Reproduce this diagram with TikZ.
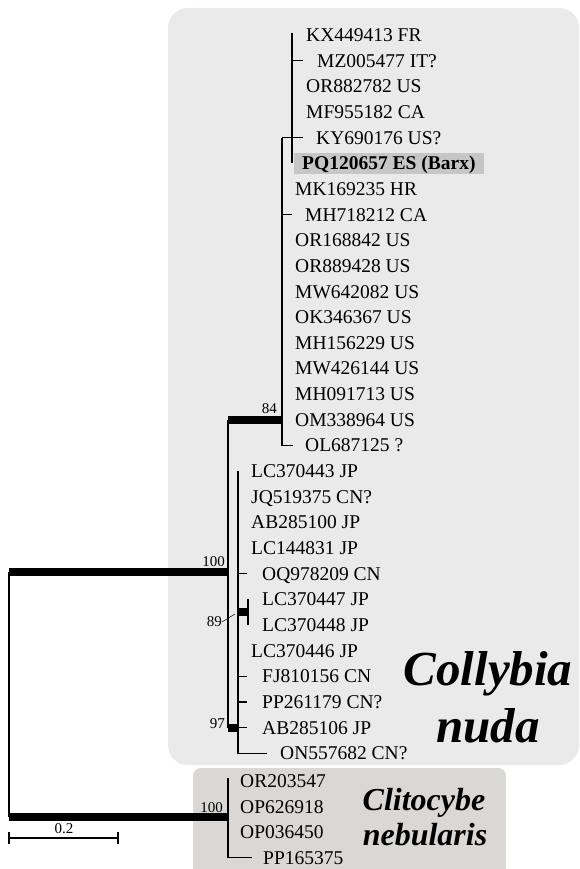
\documentclass[tikz,border=0pt]{standalone}
\usepackage{fontspec}
\setmainfont{Liberation Serif}
\usepackage{tikz}
\usetikzlibrary{calc}
\definecolor{nudagray}{RGB}{234,234,234}
\definecolor{nebgray}{RGB}{217,216,215}
\definecolor{hlgray}{RGB}{198,198,198}
\tikzset{
  taxon/.style={anchor=west, inner sep=0pt, text height=13pt, text depth=0pt, font=\fontsize{19.5}{20}\selectfont},
  supp/.style={inner sep=0pt, font=\fontsize{15}{15}\selectfont},
  branch/.style={line width=1.4pt},
  strong/.style={line width=8pt},
  clade/.style={anchor=base, inner sep=0pt, font=\bfseries\itshape\fontsize{49}{49}\selectfont},
}

\begin{document}
\begin{tikzpicture}[x=1pt,y=-1pt]
                \def\dy{25.65}
                \def\yo{35}
                \useasboundingbox (0,0) rectangle (580,869);
                % clade boxes
                \fill[nudagray, rounded corners=20pt] (168,8) rectangle (579,765);
                \fill[nebgray, rounded corners=8pt] (193,768) rectangle (506,890);
                % taxa, Collybia nuda
                \node[taxon] (kx449413) at (306,{\yo+0*\dy}) {KX449413 FR};
                \node[taxon] (mz005477) at (317,{\yo+1*\dy}) {MZ005477 IT?};
                \node[taxon] (or882782) at (306,{\yo+2*\dy}) {OR882782 US};
                \node[taxon] (mf955182) at (306,{\yo+3*\dy}) {MF955182 CA};
                \node[taxon] (ky690176) at (316,{\yo+4*\dy}) {KY690176 US?};
                \node[taxon, fill=hlgray, inner xsep=8pt, inner ysep=4pt, font=\fontsize{19.5}{20}\selectfont\bfseries] (pq120657) at (294,{\yo+5*\dy}) {PQ120657 ES (Barx)};
                \node[taxon] (mk169235) at (295,{\yo+6*\dy}) {MK169235 HR};
                \node[taxon] (mh718212) at (305,{\yo+7*\dy}) {MH718212 CA};
                \node[taxon] (or168842) at (295,{\yo+8*\dy}) {OR168842 US};
                \node[taxon] (or889428) at (295,{\yo+9*\dy}) {OR889428 US};
                \node[taxon] (mw642082) at (295,{\yo+10*\dy}) {MW642082 US};
                \node[taxon] (ok346367) at (295,{\yo+11*\dy}) {OK346367 US};
                \node[taxon] (mh156229) at (295,{\yo+12*\dy}) {MH156229 US};
                \node[taxon] (mw426144) at (295,{\yo+13*\dy}) {MW426144 US};
                \node[taxon] (mh091713) at (295,{\yo+14*\dy}) {MH091713 US};
                \node[taxon] (om338964) at (295,{\yo+15*\dy}) {OM338964 US};
                \node[taxon] (ol687125) at (305,{\yo+16*\dy}) {OL687125 ?};
                \node[taxon] (lc370443) at (251,{\yo+17*\dy}) {LC370443 JP};
                \node[taxon] (jq519375) at (251,{\yo+18*\dy}) {JQ519375 CN?};
                \node[taxon] (ab285100) at (251,{\yo+19*\dy}) {AB285100 JP};
                \node[taxon] (lc144831) at (251,{\yo+20*\dy}) {LC144831 JP};
                \node[taxon] (oq978209) at (262,{\yo+21*\dy}) {OQ978209 CN};
                \node[taxon] (lc370447) at (262,{\yo+22*\dy}) {LC370447 JP};
                \node[taxon] (lc370448) at (262,{\yo+23*\dy}) {LC370448 JP};
                \node[taxon] (lc370446) at (251,{\yo+24*\dy}) {LC370446 JP};
                \node[taxon] (fj810156) at (262,{\yo+25*\dy}) {FJ810156 CN};
                \node[taxon] (pp261179) at (262,{\yo+26*\dy}) {PP261179 CN?};
                \node[taxon] (ab285106) at (262,{\yo+27*\dy}) {AB285106 JP};
                \node[taxon] (on557682) at (280,{\yo+28*\dy}) {ON557682 CN?};
                % taxa, Clitocybe nebularis
                \node[taxon] (or203547) at (240,781) {OR203547};
                \node[taxon] (op626918) at (240,806.5) {OP626918};
                \node[taxon] (op036450) at (240,832) {OP036450};
                \node[taxon] (pp165375) at (263,857.5) {PP165375};
                % root
                \coordinate (root1) at (9,572);
                \coordinate (root2) at (9,817);
                \coordinate (cnuda) at (228,572);
                \coordinate (cneb) at (228,817);
                \draw[strong] (root1) -- (cnuda);
                \draw[strong] (root2) -- (cneb);
                \draw[branch] (root1) -- (root2);
                % Collybia nuda
                \coordinate (a84) at (228,{\yo+15*\dy});
                \coordinate (n84) at (282,{\yo+15*\dy});
                \coordinate (a97) at (228,{\yo+27*\dy});
                \coordinate (n97) at (238,{\yo+27*\dy});
                \draw[branch] (a84) -- (a97);
                \draw[strong] (a84) -- (n84);
                \draw[strong] (a97) -- (n97);
                \draw[branch] (282,{\yo+4*\dy}) -- (n84) |- ([xshift=-12pt]ol687125.west);
                \draw[branch] (282,{\yo+4*\dy}) -- ([xshift=-13pt]ky690176.west);
                \draw[branch] (282,{\yo+7*\dy}) -- ([xshift=-13pt]mh718212.west);
                \draw[branch] (292,33) -- (292,{\yo+5*\dy});
                \draw[branch] (292,{\yo+1*\dy}) -- ([xshift=-14pt]mz005477.west);
                \draw[branch] (238,{\yo+17*\dy}) |- ([xshift=-13pt]on557682.west);
                \draw[branch] (238,{\yo+21*\dy}) -- ([xshift=-15pt]oq978209.west);
                \draw[branch] (238,{\yo+25*\dy}) -- ([xshift=-15pt]fj810156.west);
                \draw[branch] (238,{\yo+26*\dy}) -- ([xshift=-15pt]pp261179.west);
                \draw[branch] (n97) -- ([xshift=-15pt]ab285106.west);
                \coordinate (n89) at (248,612);
                \draw[strong] (238,612) -- (n89);
                \draw[branch] (248,{\yo+22*\dy}) -- (248,{\yo+23*\dy});
                % Clitocybe nebularis
                \draw[branch] (228,778) |- ([xshift=-11pt]pp165375.west);
                % support values
                \node[supp, anchor=south east] (s100a) at (225,567) {100};
                \node[supp, anchor=south east] (s84) at (277,414) {84};
                \node[supp, anchor=east] (s89) at (222,622) {89};
                \node[supp, anchor=east] (s97) at (225,724) {97};
                \node[supp, anchor=south east] (s100b) at (223,813) {100};
                \draw[line width=0.5pt] (s89.east) -- (235,614);
                % scale bar
                \coordinate (sb0) at (9,838);
                \coordinate (sb1) at (118,838);
                \draw[branch] (sb0) -- (sb1);
                \draw[branch] ([yshift=-6pt]sb0) -- ([yshift=6pt]sb0);
                \draw[branch] ([yshift=-6pt]sb1) -- ([yshift=6pt]sb1);
                \node[supp] (sblab) at (64,829) {0.2};
                % clade names
                \node[clade] (collybia) at (488,685) {Collybia};
                \node[clade] (nuda) at (488,742) {nuda};
                \node[clade, font=\bfseries\itshape\fontsize{32}{32}\selectfont] (clitocybe) at (424,810) {Clitocybe};
                \node[clade, font=\bfseries\itshape\fontsize{32}{32}\selectfont] (nebularis) at (425,845) {nebularis};
            \end{tikzpicture}
\end{document}
